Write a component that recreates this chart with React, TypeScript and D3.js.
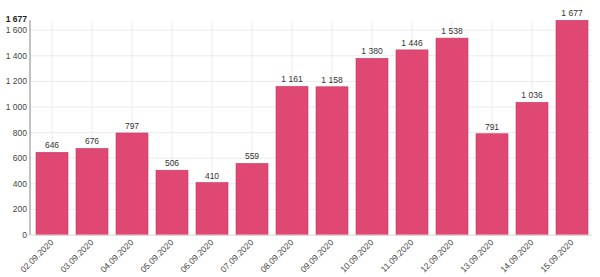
import React from "react";
import * as d3 from "d3";

const dates = [
  "02.09.2020", "03.09.2020", "04.09.2020", "05.09.2020", "06.09.2020",
  "07.09.2020", "08.09.2020", "09.09.2020", "10.09.2020", "11.09.2020",
  "12.09.2020", "13.09.2020", "14.09.2020", "15.09.2020",
];
const cases = [646, 676, 797, 506, 410, 559, 1161, 1158, 1380, 1446, 1538, 791, 1036, 1677];
const yTicks = [0, 200, 400, 600, 800, 1000, 1200, 1400, 1600];

const W = 600;
const H = 277;
const left = 32;
const right = 592;
const bottom = 235;
const maxVal = d3.max(cases) as number;

const fmt = (v: number) => d3.format(",")(v).replace(/,/g, " ");

export default function App() {
  const x = d3.scaleBand<string>().domain(dates).range([left, right]).paddingInner(0.2).paddingOuter(0.1);
  const y = d3.scaleLinear().domain([0, 1600]).range([bottom, 30.2]);
  const font = "Arial, 'Liberation Sans', sans-serif";

  return (
    <svg width={W} height={H} style={{ position: "absolute", left: 0, top: 0, background: "#fff" }} fontFamily={font}>
      {/* grid */}
      {yTicks.map((t) => (
        <line key={"h" + t} x1={30} x2={right} y1={y(t)} y2={y(t)} stroke="#ececec" strokeWidth={1} />
      ))}
      {dates.map((d) => {
        const cx = (x(d) as number) + x.bandwidth() / 2;
        return <line key={"v" + d} x1={cx} x2={cx} y1={y(maxVal)} y2={bottom} stroke="#ececec" strokeWidth={1} />;
      })}
      {/* bars */}
      {dates.map((d, i) => (
        <rect
          key={"b" + d}
          x={x(d)}
          y={y(cases[i])}
          width={x.bandwidth()}
          height={bottom - y(cases[i])}
          fill="#df4872"
          stroke="#c83a63"
          strokeWidth={0.6}
        />
      ))}
      {/* value labels */}
      {dates.map((d, i) => (
        <text
          key={"l" + d}
          x={(x(d) as number) + x.bandwidth() / 2}
          y={y(cases[i]) - 4}
          textAnchor="middle"
          fontSize={8.5}
          fill="#333"
        >
          {fmt(cases[i])}
        </text>
      ))}
      {/* y axis */}
      <line x1={30} x2={30} y1={y(maxVal)} y2={bottom} stroke="#999" strokeWidth={1.2} />
      <line x1={27} x2={right} y1={bottom} y2={bottom} stroke="#ddd" strokeWidth={1} />
      {yTicks.map((t) => (
        <text key={"yt" + t} x={27} y={y(t) + 3} textAnchor="end" fontSize={8.5} fill="#444">
          {fmt(t)}
        </text>
      ))}
      <text x={27} y={y(maxVal) + 2} textAnchor="end" fontSize={8.5} fontWeight="bold" fill="#222">
        {fmt(maxVal)}
      </text>
      {/* x labels */}
      {dates.map((d) => {
        const cx = (x(d) as number) + x.bandwidth() / 2 + 2;
        return (
          <text
            key={"xt" + d}
            transform={`translate(${cx},${bottom + 8}) rotate(-45)`}
            textAnchor="end"
            fontSize={8.5}
            fill="#444"
          >
            {d}
          </text>
        );
      })}
    </svg>
  );
}
